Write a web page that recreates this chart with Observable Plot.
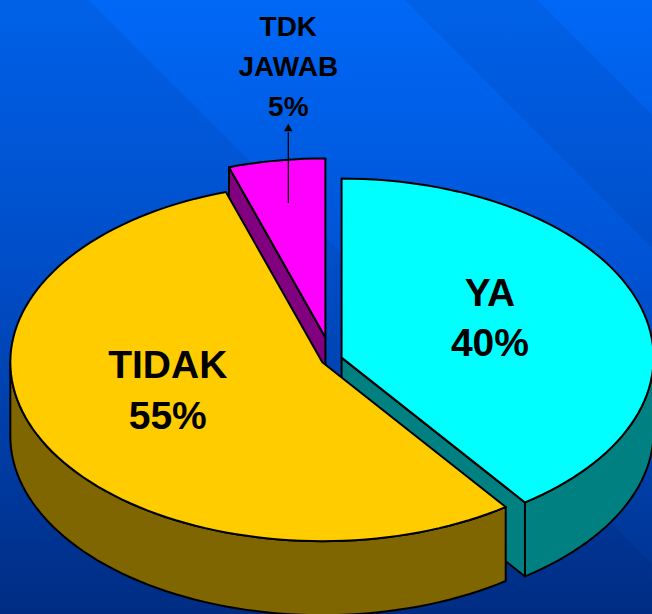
<!DOCTYPE html>
<html>
<head>
<meta charset="utf-8">
<script src="https://cdn.jsdelivr.net/npm/d3@7"></script>
<script src="https://cdn.jsdelivr.net/npm/@observablehq/plot@0.6"></script>
<style>
  html, body { margin: 0; padding: 0; width: 652px; height: 614px; overflow: hidden; }
</style>
</head>
<body>
<div id="chart"></div>
<script>
// ---- data ----
const categories = ["YA", "TIDAK", "TDK\nJAWAB"];
const percents = [40, 55, 5];

// ---- styles ----
const topColors = ["#00FFFF", "#FFCC00", "#FF00FF"];
const sideColors = ["#008080", "#806600", "#800080"];
const explode = [0.034, 0.033, 0.125];        // fraction of radius
const insideLabel = [true, true, false];
const labelShiftX = [0, -0.05, 0];            // small horizontal nudges (radius units)

// ---- layout ----
const W = 652, H = 614;
const cx = 331, cy = 359, rx = 312, ry = 179;
const depth = 74 / ry;                        // wall height in y units

const arcs = d3.pie().sort(null).startAngle(0).endAngle(2 * Math.PI)(percents);

const slices = arcs.map((a, i) => {
  const mid = (a.startAngle + a.endAngle) / 2;
  return {
    i, a0: a.startAngle, a1: a.endAngle, mid,
    ox: explode[i] * Math.sin(mid),
    oy: -explode[i] * Math.cos(mid)
  };
});

function rim(s, phi, z) { return {x: s.ox + Math.sin(phi), y: s.oy - Math.cos(phi) + z * depth}; }
function ctr(s, z) { return {x: s.ox, y: s.oy + z * depth}; }
function arcPts(s, p0, p1, z) {
  const n = Math.max(2, Math.ceil((p1 - p0) / (Math.PI / 90)));
  return d3.range(n + 1).map(k => rim(s, p0 + (p1 - p0) * k / n, z));
}

const faces = [];
// paint back to front
const order = slices.slice().sort((p, q) => (-Math.cos(p.mid)) - (-Math.cos(q.mid)));
for (const s of order) {
  if (Math.sin(s.a0) < -1e-6) {
    faces.push({fill: sideColors[s.i], pts: [ctr(s, 0), rim(s, s.a0, 0), rim(s, s.a0, 1), ctr(s, 1), ctr(s, 0)]});
  }
  if (Math.sin(s.a1) > 1e-6) {
    faces.push({fill: sideColors[s.i], pts: [ctr(s, 0), rim(s, s.a1, 0), rim(s, s.a1, 1), ctr(s, 1), ctr(s, 0)]});
  }
  const w0 = Math.max(s.a0, Math.PI / 2), w1 = Math.min(s.a1, 3 * Math.PI / 2);
  if (w1 > w0) {
    const top = arcPts(s, w0, w1, 0);
    const bot = arcPts(s, w0, w1, 1).reverse();
    faces.push({fill: sideColors[s.i], pts: [...top, ...bot, top[0]]});
  }
  const t = arcPts(s, s.a0, s.a1, 0);
  faces.push({fill: topColors[s.i], pts: [ctr(s, 0), ...t, ctr(s, 0)]});
}

// labels
const inLabels = slices.filter(s => insideLabel[s.i]).map(s => ({
  x: s.ox + Math.sin(s.mid) * 0.5 + labelShiftX[s.i],
  y: s.oy - Math.cos(s.mid) * 0.5 - 0.085,
  text: `${categories[s.i]}\n${percents[s.i]}%`
}));
const outSlices = slices.filter(s => !insideLabel[s.i]);
const arrows = outSlices.map(s => {
  const x = s.ox + Math.sin(s.mid) * 0.76;
  return {x, y1: s.oy - Math.cos(s.mid) * 0.76, y2: s.oy - Math.cos(s.mid) * 1.16, tip: s.oy - Math.cos(s.mid) * 1.18};
});
const outLabels = outSlices.map((s, k) => ({
  x: arrows[k].x,
  y: s.oy - Math.cos(s.mid) * 1.55,
  text: `${categories[s.i]}\n${percents[s.i]}%`
}));

const font = "'Liberation Sans', Arial, Helvetica, sans-serif";

const chart = Plot.plot({
  width: W, height: H,
  margin: 0,
  x: {domain: [-1, 1], range: [cx - rx, cx + rx], axis: null},
  y: {domain: [-1, 1], range: [cy - ry, cy + ry], axis: null},
  style: "background: linear-gradient(45deg, rgba(0,0,40,0.07) 0px, rgba(0,0,40,0.07) 497px, rgba(0,0,0,0) 497px, rgba(0,0,0,0) 720px, rgba(0,0,40,0.07) 720px, rgba(0,0,40,0.07) 814px, rgba(0,0,0,0) 814px), linear-gradient(to bottom, #0068F6 0%, #0052D2 45%, #00308A 100%);",
  marks: [
    ...faces.map(f => Plot.line(f.pts, {
      x: "x", y: "y", fill: f.fill, stroke: "black", strokeWidth: 2,
      strokeLinejoin: "round", curve: "linear"
    })),
    Plot.text(inLabels, {
      x: "x", y: "y", text: "text", fontSize: 39, fontWeight: "bold",
      lineHeight: 1.3, fontFamily: font, fill: "black", textAnchor: "middle"
    }),
    Plot.link(arrows, {x1: "x", x2: "x", y1: "y1", y2: "y2", stroke: "black", strokeWidth: 1.3}),
    Plot.dot(arrows, {x: "x", y: "tip", symbol: "triangle", r: 3.2, fill: "black", stroke: "none"}),
    Plot.text(outLabels, {
      x: "x", y: "y", text: "text", fontSize: 28, fontWeight: "bold",
      lineHeight: 1.43, fontFamily: font, fill: "black", textAnchor: "middle"
    })
  ]
});
document.getElementById("chart").appendChild(chart);
</script>
</body>
</html>
